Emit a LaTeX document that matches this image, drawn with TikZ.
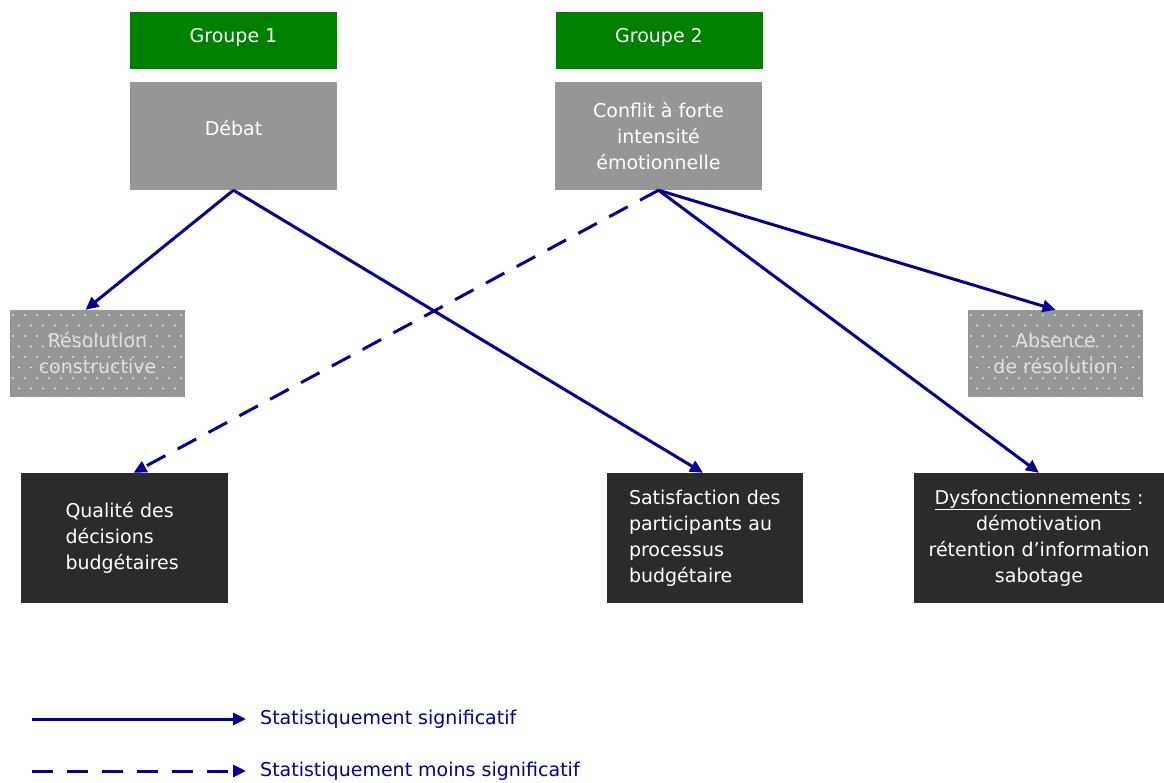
\documentclass[tikz,border=0pt]{standalone}
\usepackage{fontspec}
\setmainfont{DejaVu Sans}
\usetikzlibrary{arrows.meta, calc}
\definecolor{grpgreen}{RGB}{0,128,0}
\definecolor{boxgrey}{RGB}{150,150,150}
\definecolor{darkbox}{RGB}{43,43,43}
\definecolor{arrblue}{RGB}{0,0,153}
\definecolor{dotwhite}{RGB}{225,225,225}
\tikzset{
    grouphead/.style={rectangle, fill=grpgreen, text=white, minimum width=207pt, minimum height=57pt, inner sep=0pt, align=center, font=\fontsize{19}{26}\selectfont},
    factor/.style={rectangle, fill=boxgrey, text=white, minimum width=207pt, minimum height=108pt, inner sep=0pt, align=center, font=\fontsize{19}{26}\selectfont},
    dotbox/.style={rectangle, fill=boxgrey, text=dotwhite, minimum width=175pt, minimum height=87pt, inner sep=0pt, align=center, font=\fontsize{19}{26}\selectfont,
        path picture={
            \foreach \j in {0,...,8}{
                \foreach \i in {0,...,15}{
                    \fill[dotwhite] ([xshift={\i*12+3+mod(\j,2)*6}, yshift={-\j*10.5-5}]path picture bounding box.north west) circle (1.1pt);
                }
            }
        }},
    outcome/.style={rectangle, fill=darkbox, text=white, minimum height=130pt, inner sep=0pt, font=\fontsize{19}{26}\selectfont},
    sig/.style={-{Triangle[length=13pt, width=12pt]}, line width=3pt, color=arrblue},
    lesssig/.style={sig, dash pattern=on 21pt off 14pt},
    legtext/.style={anchor=west, text=arrblue, inner sep=0pt, font=\fontsize{19}{26}\selectfont}
}

\begin{document}
\begin{tikzpicture}[x=1pt, y=-1pt]
    \useasboundingbox[fill=white] (0,0) rectangle (1164,782);

    % Groups and factors
    \node[grouphead] (grp1) at (233.5,40.5) {\raisebox{10pt}{Groupe 1}};
    \node[grouphead] (grp2) at (659,40.5) {\raisebox{10pt}{Groupe 2}};
    \node[factor] (debat) at (233.5,136) {\raisebox{16pt}{Débat}};
    \node[factor] (conflit) at (658.5,136) {Conflit à forte\\intensité\\émotionnelle};

    % Resolution boxes
    \node[dotbox] (resol) at (97.5,353.5) {Résolution\\constructive};
    \node[dotbox] (absence) at (1055.5,353.5) {Absence\\de résolution};

    % Outcomes
    \node[outcome, minimum width=207pt, text width=118pt, align=left] (qualite) at (124.5,538) {Qualité des\\décisions\\budgétaires};
    \node[outcome, minimum width=196pt, text width=152pt, align=left] (satisf) at (705,538) {Satisfaction des\\participants au\\processus\\budgétaire};
    \node[outcome, minimum width=250pt, text width=244pt, align=center] (dysf) at (1039,538) {\underline{Dysfonctionnements} :\\démotivation\\rétention d’information\\sabotage};

    % Links
    \draw[sig] (debat.south) -- ([xshift=-12pt]resol.north);
    \draw[sig] (debat.south) -- ([xshift=-2pt]satisf.north);
    \draw[lesssig] (conflit.south) -- ([xshift=9pt]qualite.north);
    \draw[sig] (conflit.south) -- (absence.north);
    \draw[sig] (conflit.south) -- (dysf.north);

    % Legend
    \coordinate (lg1) at (32,719);
    \coordinate (lg2) at (32,771);
    \node[legtext] (txtsig) at (260,719) {Statistiquement significatif};
    \node[legtext] (txtless) at (260,771) {Statistiquement moins significatif};
    \draw[sig] (lg1) -- ([xshift=-14pt]txtsig.west);
    \draw[lesssig] (lg2) -- ([xshift=-14pt]txtless.west);
\end{tikzpicture}
\end{document}
